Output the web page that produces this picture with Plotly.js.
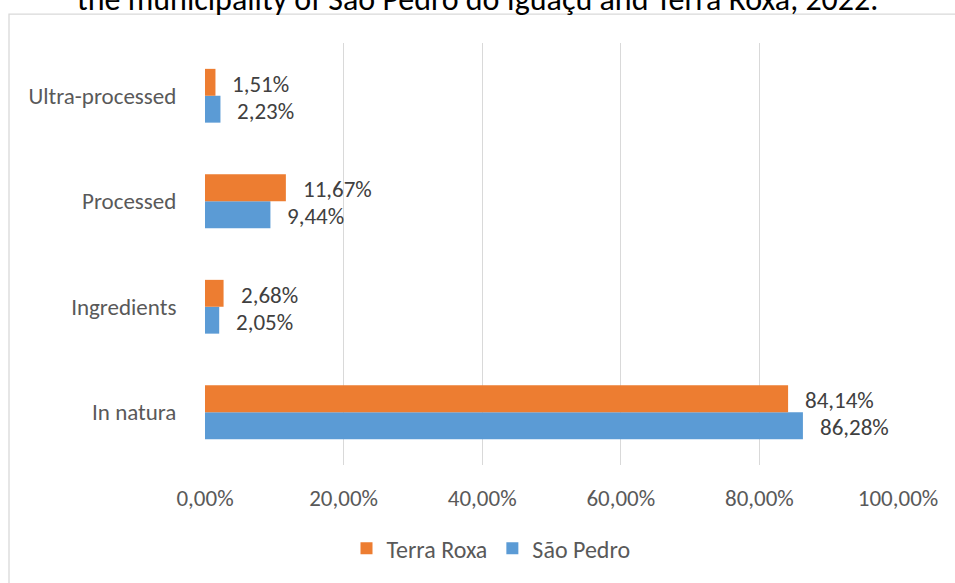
<!DOCTYPE html>
<html>
<head>
<meta charset="utf-8">
<script src="https://cdn.plot.ly/plotly-3.0.1.min.js"></script>
<style>html,body{margin:0;padding:0;background:#fff;}#chart{width:955px;height:583px;}</style>
</head>
<body>
<div id="chart"></div>
<script>
const categories = ['In natura', 'Ingredients', 'Processed', 'Ultra-processed'];
const saoPedro = [86.28, 2.05, 9.44, 2.23];
const terraRoxa = [84.14, 2.68, 11.67, 1.51];
const seriesNames = ['São Pedro', 'Terra Roxa'];
const seriesColors = ['#5B9BD5', '#ED7D31'];
const tickValues = [0, 20, 40, 60, 80, 100];
const titleText = 'the municipality of São Pedro do Iguaçu and Terra Roxa, 2022.';

const FONT = 'Carlito, Lato, sans-serif';
const fmt = v => v.toFixed(2).replace('.', ',') + '%';

const traces = [saoPedro, terraRoxa].map((vals, i) => ({
  type: 'bar', orientation: 'h',
  name: seriesNames[i], x: vals, y: categories,
  marker: {color: seriesColors[i]},
  hoverinfo: 'none'
}));

const L = 205, R = 898, T = 43, B = 467;
const pw = R - L, ph = B - T;
const px2x = p => (p - L) / pw;
const px2y = p => (B - p) / ph;

const annotations = [];
[saoPedro, terraRoxa].forEach((vals, i) => {
  vals.forEach((v, j) => {
    annotations.push({
      x: v, y: categories[j], xref: 'x', yref: 'y',
      text: fmt(v), showarrow: false,
      xanchor: 'left', yanchor: 'middle',
      xshift: 15, yshift: i === 1 ? 12 : -15,
      font: {family: FONT, size: 23, color: '#404040'}
    });
  });
});
annotations.push({
  x: px2x(477), xref: 'paper', xanchor: 'center',
  y: px2y(-1), yref: 'paper', yanchor: 'middle',
  text: titleText, showarrow: false,
  font: {family: FONT, size: 32, color: '#000000'}
});

const layout = {
  width: 955, height: 583,
  margin: {l: L, r: 955 - R, t: T, b: 583 - B, pad: 0},
  paper_bgcolor: '#ffffff', plot_bgcolor: '#ffffff',
  font: {family: FONT, size: 23, color: '#595959'},
  barmode: 'group', bargap: 0.49, bargroupgap: 0,
  xaxis: {
    range: [0, 100], tickmode: 'array', tickvals: tickValues,
    ticktext: tickValues.map(fmt),
    showgrid: true, gridcolor: '#d9d9d9', gridwidth: 1,
    zeroline: false, showline: false,
    ticks: 'outside', ticklen: 12, tickcolor: 'rgba(0,0,0,0)',
    tickfont: {family: FONT, size: 23, color: '#595959'},
    fixedrange: true
  },
  yaxis: {
    type: 'category', categoryorder: 'array', categoryarray: categories,
    showgrid: false, zeroline: false, showline: false,
    ticks: 'outside', ticklen: 23, tickcolor: 'rgba(0,0,0,0)',
    tickfont: {family: FONT, size: 23, color: '#595959'},
    fixedrange: true
  },
  showlegend: true,
  legend: {
    orientation: 'h', traceorder: 'reversed',
    x: px2x(491), xanchor: 'center',
    y: px2y(551), yanchor: 'middle',
    font: {family: FONT, size: 24, color: '#595959'},
    itemwidth: 30, bgcolor: 'rgba(0,0,0,0)'
  },
  annotations: annotations,
  shapes: [{
    type: 'rect', xref: 'paper', yref: 'paper',
    x0: px2x(9), x1: px2x(965), y0: px2y(595), y1: px2y(14),
    line: {color: '#d9d9d9', width: 1.3}, fillcolor: 'rgba(0,0,0,0)', layer: 'below'
  }]
};

Plotly.newPlot('chart', traces, layout, {displayModeBar: false, staticPlot: true});
</script>
</body>
</html>
